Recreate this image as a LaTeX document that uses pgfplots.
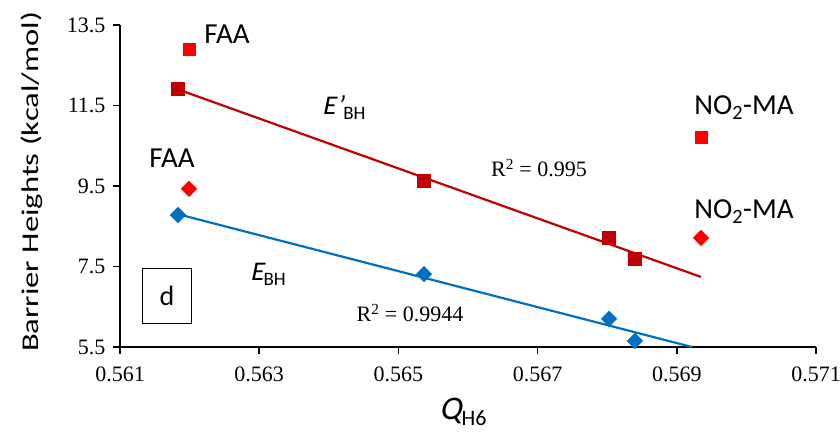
\documentclass[border=0pt]{standalone}
\usepackage{pgfplots}
\pgfplotsset{compat=1.18}
\usepackage{fontspec}
\setmainfont{Liberation Serif}
\newfontfamily\calfont{Carlito}
\newfontfamily\calitfont[FakeSlant=0.2]{Carlito}
\definecolor{dred}{HTML}{C00000}
\definecolor{bred}{HTML}{FF0000}
\definecolor{eblue}{HTML}{0070C0}
\begin{document}
\begin{tikzpicture}[x=1pt,y=1pt]
\path[use as bounding box] (0,0) rectangle (840,433);
\begin{axis}[
  at={(120pt,86pt)}, anchor=south west, scale only axis,
  width=696pt, height=322pt,
  xmin=0.561, xmax=0.571, ymin=5.5, ymax=13.5,
  axis x line*=bottom, axis y line*=left,
  axis line style={line width=1.6pt,-},
  xtick={0.561,0.563,0.565,0.567,0.569,0.571},
  ytick={5.5,7.5,9.5,11.5,13.5},
  xticklabels={0.561,0.563,0.565,0.567,0.569,0.571},
  yticklabels={5.5,7.5,9.5,11.5,13.5},
  tick align=outside, major tick length=7pt,
  tick style={line width=1.6pt, black},
  ticklabel style={font=\fontsize{22}{24}\selectfont},
  xticklabel style={yshift=-9pt},
  yticklabel style={xshift=-4pt},
  clip=false,
]
\addplot[dred, line width=2.2pt] coordinates {(0.561833,11.9)(0.569348,7.24)};
\addplot[eblue, line width=2.2pt] coordinates {(0.561833,8.8)(0.569218,5.5)};
\addplot[only marks, mark=square*, mark size=6.5pt, color=dred] coordinates {(0.561833,11.91)(0.565368,9.62)(0.568026,8.21)(0.568399,7.69)};
\addplot[only marks, mark=square*, mark size=6pt, color=bred] coordinates {(0.561991,12.90)(0.569348,10.72)};
\addplot[only marks, mark=square*, mark options={rotate=45}, mark size=5.5pt, color=eblue] coordinates {(0.561833,8.78)(0.565368,7.31)(0.568026,6.20)(0.568399,5.65)};
\addplot[only marks, mark=square*, mark options={rotate=45}, mark size=5.5pt, color=bred] coordinates {(0.561991,9.43)(0.569348,8.21)};
\end{axis}
\node[anchor=base, font=\calfont\fontsize{29}{30}\selectfont] at (227,389) {FAA};
\node[anchor=base, font=\calfont\fontsize{29}{30}\selectfont] at (172,265) {FAA};
\node[anchor=base, font=\calfont\fontsize{29}{30}\selectfont] at (744,318) {NO\textsubscript{2}-MA};
\node[anchor=base, font=\calfont\fontsize{29}{30}\selectfont] at (744,214) {NO\textsubscript{2}-MA};
\node[anchor=base, font=\calfont\fontsize{27}{28}\selectfont] at (344,318) {{\calitfont E\kern1pt’}{\fontsize{19}{20}\selectfont\raisebox{-5pt}{BH}}};
\node[anchor=base, font=\calfont\fontsize{27}{28}\selectfont] at (268,152) {{\calitfont E}{\fontsize{19}{20}\selectfont\raisebox{-5pt}{BH}}};
\node[anchor=base, font=\fontsize{22}{23}\selectfont] at (539,256) {R\textsuperscript{2} = 0.995};
\node[anchor=base, font=\fontsize{22}{23}\selectfont] at (410,111) {R\textsuperscript{2} = 0.9944};
\node[draw=black, line width=1pt, minimum width=49pt, minimum height=55pt, font=\calfont\fontsize{28}{30}\selectfont] at (167,137) {d};
\node[anchor=base, font=\calfont\fontsize{33}{34}\selectfont] at (463,13) {{\calitfont Q}{\fontsize{22}{23}\selectfont\raisebox{-6pt}{H6}}};
\node[rotate=90, font=\calfont\fontsize{24}{26}\selectfont] at (32,251) {\scalebox{1.36}[1]{Barrier Heights (kcal/mol)}};
\end{tikzpicture}
\end{document}
